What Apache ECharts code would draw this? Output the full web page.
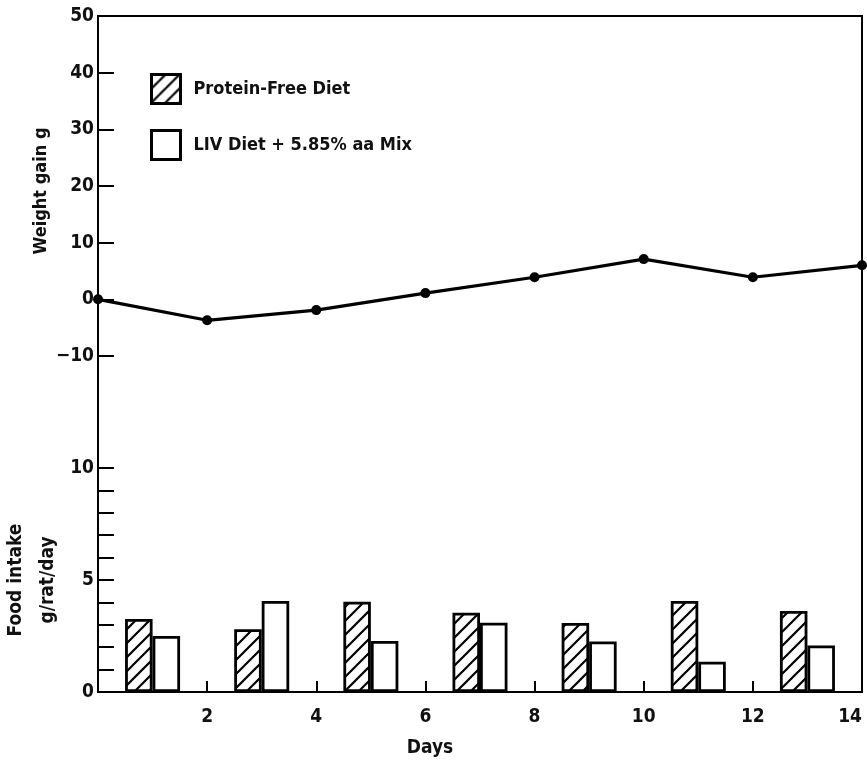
<!DOCTYPE html>
<html>
<head>
<meta charset="utf-8">
<title>Weight gain and food intake</title>
<script src="https://cdn.jsdelivr.net/npm/echarts@6/dist/echarts.min.js"></script>
<style>
  html, body { margin: 0; padding: 0; background: #fff; }
  #chart { width: 867px; height: 761px; }
</style>
</head>
<body>
<div id="chart"></div>
<script>
// Weight gain (g), measured every second day
const days = [0, 2, 4, 6, 8, 10, 12, 14];
const weightGain = [0, -3.7, -1.9, 1.1, 3.9, 7.1, 3.9, 6.0];

// Food intake (g/rat/day), one pair of bars per interval
const intakeDays = [1, 3, 5, 7, 9, 11, 13];
const proteinFree = [3.26, 2.8, 4.03, 3.54, 3.08, 4.06, 3.62];
const livDiet = [2.5, 4.06, 2.28, 3.09, 2.26, 1.35, 2.08];

// Axis ticks
const dayTicks = [0, 2, 4, 6, 8, 10, 12, 14];
const weightTicks = [-10, 0, 10, 20, 30, 40, 50];
const foodTicks = [0, 5, 10];

const seriesNames = ['Protein-Free Diet', 'LIV Diet + 5.85% aa Mix'];

const FONT = '"DejaVu Sans Condensed", "DejaVu Sans", sans-serif';
const INK = '#111';

// Diagonal hatch tile for the protein-free bars
function hatchPattern() {
  const s = 14;
  const c = document.createElement('canvas');
  c.width = s; c.height = s;
  const g = c.getContext('2d');
  g.fillStyle = '#fff';
  g.fillRect(0, 0, s, s);
  g.strokeStyle = '#000';
  g.lineWidth = 2.2;
  g.beginPath();
  g.moveTo(-2, s + 2); g.lineTo(s + 2, -2);
  g.moveTo(-2, 2); g.lineTo(2, -2);
  g.moveTo(s - 2, s + 2); g.lineTo(s + 2, s - 2);
  g.stroke();
  return { image: c, repeat: 'repeat' };
}

const pairs = (xs, ys) => xs.map((x, i) => [x, ys[i]]);

const labelStyle = { color: INK, fontFamily: FONT, fontSize: 19, fontWeight: 'bold' };

const chart = echarts.init(document.getElementById('chart'), null, { renderer: 'canvas' });

chart.setOption({
  backgroundColor: '#fff',
  animation: false,
  legend: {
    orient: 'vertical',
    left: 150,
    top: 73,
    padding: 0,
    itemWidth: 29,
    itemHeight: 29,
    itemGap: 24,
    icon: 'rect',
    data: seriesNames,
    itemStyle: { borderWidth: 3, borderColor: '#000' },
    textStyle: { color: INK, fontFamily: FONT, fontSize: 18, fontWeight: 'bold', padding: [0, 0, 0, 8] },
    selectedMode: false
  },
  grid: [
    // weight gain panel
    { left: 98, right: 5, top: 16, height: 340, outerBoundsMode: 'none' },
    // food intake panel
    { left: 98, right: 5, top: 468, bottom: 69, outerBoundsMode: 'none' },
    // outer frame
    { left: 98, right: 5, top: 16, bottom: 69, outerBoundsMode: 'none', show: true, borderColor: '#000', borderWidth: 2, backgroundColor: 'transparent' }
  ],
  xAxis: [
    { gridIndex: 0, type: 'value', min: dayTicks[0], max: dayTicks[dayTicks.length - 1], interval: 2, show: false },
    {
      gridIndex: 1, type: 'value',
      min: dayTicks[0], max: dayTicks[dayTicks.length - 1], interval: dayTicks[1] - dayTicks[0],
      name: 'Days', nameLocation: 'middle', nameGap: 47, nameMoveOverlap: false,
      nameTextStyle: { color: INK, fontFamily: FONT, fontSize: 19, fontWeight: 'bold', padding: [0, 100, 0, 0] },
      axisLine: { show: false },
      axisTick: { show: true, inside: true, length: 11, lineStyle: { color: '#000', width: 2 } },
      axisLabel: Object.assign({ margin: 16, showMinLabel: false, alignMaxLabel: 'right', formatter: v => (v === 0 ? '' : String(v)) }, labelStyle),
      splitLine: { show: false }
    },
    { gridIndex: 2, type: 'value', min: 0, max: 1, show: false }
  ],
  yAxis: [
    {
      gridIndex: 0, type: 'value',
      min: weightTicks[0], max: weightTicks[weightTicks.length - 1], interval: weightTicks[1] - weightTicks[0],
      name: 'Weight gain g', nameLocation: 'middle', nameGap: 48, nameMoveOverlap: false,
      nameTextStyle: { color: INK, fontFamily: FONT, fontSize: 18, fontWeight: 'bold', padding: [0, 10, 0, 0] },
      axisLine: { show: false },
      axisTick: { show: true, inside: true, length: 16, lineStyle: { color: '#000', width: 2 } },
      axisLabel: Object.assign({ margin: 4, formatter: v => String(v).replace('-', '\u2212') }, labelStyle),
      splitLine: { show: false }
    },
    {
      gridIndex: 1, type: 'value',
      min: foodTicks[0], max: foodTicks[foodTicks.length - 1], interval: foodTicks[1] - foodTicks[0],
      name: 'Food intake\ng/rat/day', nameLocation: 'middle', nameGap: 34, nameMoveOverlap: false,
      nameTextStyle: { color: INK, fontFamily: FONT, fontSize: 19, fontWeight: 'bold', lineHeight: 32, align: 'center' },
      axisLine: { show: false },
      axisTick: { show: true, inside: true, length: 16, lineStyle: { color: '#000', width: 2 } },
      minorTick: { show: true, splitNumber: 5, length: 16, lineStyle: { color: '#000', width: 2 } },
      axisLabel: Object.assign({ margin: 4 }, labelStyle),
      splitLine: { show: false }
    },
    { gridIndex: 2, type: 'value', min: 0, max: 1, show: false }
  ],
  series: [
    {
      name: seriesNames[0],
      type: 'bar',
      xAxisIndex: 1, yAxisIndex: 1,
      data: pairs(intakeDays, proteinFree),
      barWidth: 27.5,
      barGap: '0%',
      itemStyle: { color: hatchPattern(), borderColor: '#000', borderWidth: 2.8 }
    },
    {
      name: seriesNames[1],
      type: 'bar',
      xAxisIndex: 1, yAxisIndex: 1,
      data: pairs(intakeDays, livDiet),
      barWidth: 27.5,
      barGap: '0%',
      itemStyle: { color: '#fff', borderColor: '#000', borderWidth: 2.8 }
    },
    {
      name: 'Weight gain',
      type: 'line',
      xAxisIndex: 0, yAxisIndex: 0,
      data: pairs(days, weightGain),
      clip: false,
      symbol: 'circle',
      symbolSize: 10,
      lineStyle: { color: '#000', width: 3.2 },
      itemStyle: { color: '#000' }
    }
  ]
});
</script>
</body>
</html>
